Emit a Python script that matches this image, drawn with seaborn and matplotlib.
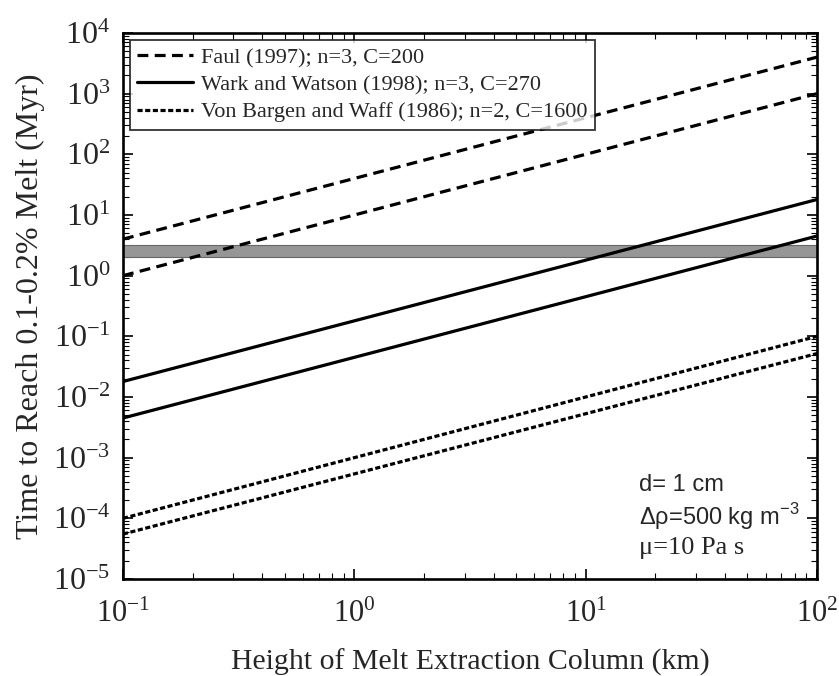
import numpy as np
import pandas as pd
import matplotlib
matplotlib.use('Agg')
import matplotlib.pyplot as plt
import matplotlib.ticker as mticker
import seaborn as sns

# column heights (km) at the ends of each line
height_km = [0.1, 100]

# time to reach 0.1-0.2% melt (Myr)
faul_upper = [4.0, 4000]
faul_lower = [1.0, 1000]
wark_upper = [0.018, 18]
wark_lower = [0.0045, 4.5]
vonbargen_upper = [1.0e-4, 0.1]
vonbargen_lower = [5.5e-5, 0.052]

band_low, band_high = 2.0, 3.2

labels = ['Faul (1997); n=3, C=200',
          'Wark and Watson (1998); n=3, C=270',
          'Von Bargen and Waff (1986); n=2, C=1600']

sns.set_style('ticks')
plt.rcParams['font.family'] = ['Liberation Serif', 'DejaVu Serif']
plt.rcParams['mathtext.fontset'] = 'custom'
plt.rcParams['mathtext.rm'] = 'Liberation Serif'

fig = plt.figure(figsize=(8.39, 6.76), dpi=100)
ax = fig.add_axes([0.1466, 0.1435, 0.8272, 0.8077])

ax.axhspan(band_low, band_high, facecolor='#969696', edgecolor='#666666', lw=0.8, zorder=1)

series = [
    (faul_upper, faul_lower, (0, (3.4, 2.0)), labels[0]),
    (wark_upper, wark_lower, '-', labels[1]),
    (vonbargen_upper, vonbargen_lower, (0, (1.6, 0.8)), labels[2]),
]
for upper, lower, ls, lab in series:
    sns.lineplot(x=height_km, y=upper, ax=ax, color='black', lw=2.3,
                 linestyle=ls, label=lab, zorder=3)
    sns.lineplot(x=height_km, y=lower, ax=ax, color='black', lw=2.3,
                 linestyle=ls, zorder=3)

ax.set_xscale('log')
ax.set_yscale('log')
ax.set_xlim(0.1, 100)
ax.set_ylim(1e-5, 1e4)

fmt = mticker.FuncFormatter(lambda v, p: r'$\mathregular{10^{%d}}$' % round(np.log10(v)))
ax.xaxis.set_major_formatter(fmt)
ax.yaxis.set_major_formatter(fmt)
ax.xaxis.set_major_locator(mticker.LogLocator(base=10, numticks=10))
ax.yaxis.set_major_locator(mticker.LogLocator(base=10, numticks=20))
ax.xaxis.set_minor_locator(mticker.LogLocator(base=10, subs=np.arange(2, 10), numticks=20))
ax.yaxis.set_minor_locator(mticker.LogLocator(base=10, subs=np.arange(2, 10), numticks=20))
ax.yaxis.set_minor_formatter(mticker.NullFormatter())
ax.xaxis.set_minor_formatter(mticker.NullFormatter())
ax.tick_params(which='both', direction='in', top=True, right=True, color='black')
ax.tick_params(which='major', length=7, width=1.2)
ax.tick_params(axis='x', which='major', pad=15, labelsize=22)
ax.tick_params(axis='y', which='major', pad=9, labelsize=23)
ax.tick_params(which='minor', length=4, width=0.8)
for s in ax.spines.values():
    s.set_linewidth(1.9)
    s.set_color('black')

ax.set_xlabel('Height of Melt Extraction Column (km)', fontsize=21.5, labelpad=14)
ax.set_ylabel('Time to Reach 0.1-0.2% Melt (Myr)', fontsize=23, labelpad=6)

leg = ax.legend(loc='upper left', fontsize=16, frameon=True, fancybox=False,
                borderaxespad=0.3, handlelength=2.5, handletextpad=0.35,
                borderpad=0.35, labelspacing=0.3)
leg.get_frame().set_edgecolor('black')
leg.get_frame().set_linewidth(1.3)

ax.text(0.743, 0.172, 'd= 1 cm', transform=ax.transAxes, fontsize=17,
        family=['Liberation Sans'], va='center')
ax.text(0.743, 0.115, r'Δρ=500 kg m$^{\mathregular{-3}}$', transform=ax.transAxes, fontsize=17,
        family=['Liberation Sans'], va='center')
ax.text(0.743, 0.057, 'μ=10 Pa s', transform=ax.transAxes, fontsize=19,
        family=['Liberation Serif'], va='center')

fig.savefig('out.png', dpi=100)
